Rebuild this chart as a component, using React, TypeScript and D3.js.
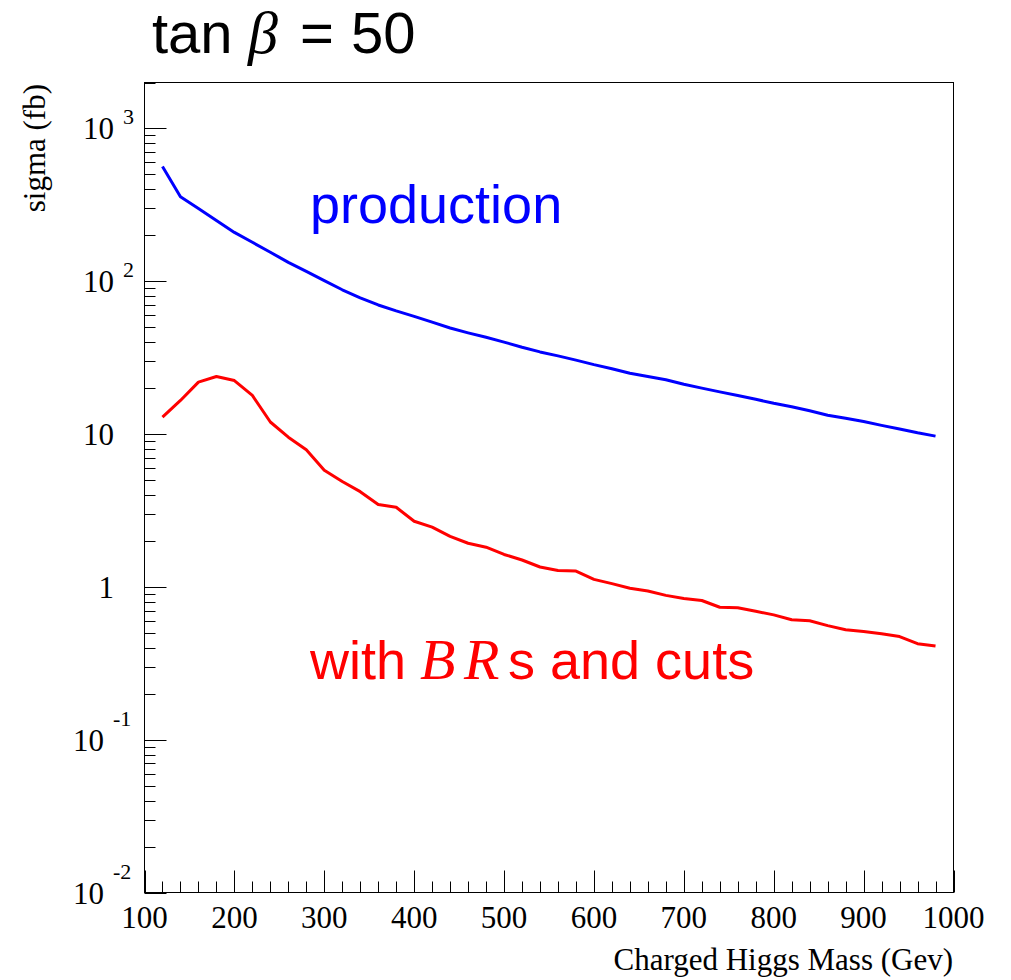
import React, { useRef, useLayoutEffect } from 'react'
import { select, scaleLinear, scaleLog, line, range } from 'd3'

// masses (GeV), every 20 from 120 to 980
const masses = range(120, 981, 20)

// production cross section (fb)
const production = [
  564, 357, 300, 250, 209, 180, 155, 133, 116, 101, 88, 78, 70, 64, 59, 54,
  49.5, 46, 43, 40, 37, 34.5, 32.5, 30.5, 28.5, 26.8, 25, 23.8, 22.7, 21.2, 20,
  18.9, 17.9, 16.9, 15.9, 15.1, 14.2, 13.3, 12.7, 12.1, 11.4, 10.8, 10.2, 9.7,
]

// with BRs and cuts (fb)
const withCuts = [
  12.9, 16.6, 21.9, 23.8, 22.4, 17.9, 12.0, 9.55, 7.9, 5.8, 4.9, 4.2, 3.46,
  3.32, 2.69, 2.46, 2.14, 1.93, 1.82, 1.63, 1.5, 1.35, 1.28, 1.27, 1.12, 1.05,
  0.98, 0.94, 0.88, 0.84, 0.815, 0.736, 0.73, 0.693, 0.656, 0.61, 0.6, 0.558,
  0.524, 0.51, 0.493, 0.473, 0.425, 0.41,
]

const xTicks = [100, 200, 300, 400, 500, 600, 700, 800, 900, 1000]
const yDecades = [-2, -1, 0, 1, 2, 3]

const WIDTH = 1011
const HEIGHT = 980
const frame = { left: 144.5, right: 953.5, top: 82.5, bottom: 892.5 }
const SERIF = '"Liberation Serif", "Times New Roman", serif'
const SANS = '"Liberation Sans", Arial, Helvetica, sans-serif'

function App() {
  const svgRef = useRef()

  useLayoutEffect(() => {
    const svg = select(svgRef.current)
    svg.selectAll('*').remove()

    const x = scaleLinear().domain([100, 1000]).range([frame.left, frame.right])
    const y = scaleLog().domain([0.01, 2000]).range([frame.bottom, frame.top])

    // frame
    svg
      .append('rect')
      .attr('x', frame.left)
      .attr('y', frame.top)
      .attr('width', frame.right - frame.left)
      .attr('height', frame.bottom - frame.top)
      .attr('fill', 'none')
      .attr('stroke', 'black')
      .attr('stroke-width', 1)

    // y ticks (major + minor)
    const ax = svg.append('g').attr('stroke', 'black').attr('stroke-width', 1)
    yDecades.forEach(d => {
      const base = Math.pow(10, d)
      ax.append('line')
        .attr('x1', frame.left).attr('x2', frame.left + 22)
        .attr('y1', Math.round(y(base)) + 0.5).attr('y2', Math.round(y(base)) + 0.5)
      for (let m = 2; m <= 9; m++) {
        const v = m * base
        if (v > 2000) break
        ax.append('line')
          .attr('x1', frame.left).attr('x2', frame.left + 11)
          .attr('y1', Math.round(y(v)) + 0.5).attr('y2', Math.round(y(v)) + 0.5)
      }
    })

    // x ticks
    range(100, 1001, 20).forEach(v => {
      const major = v % 100 === 0
      ax.append('line')
        .attr('x1', Math.round(x(v)) + 0.5).attr('x2', Math.round(x(v)) + 0.5)
        .attr('y1', frame.bottom).attr('y2', frame.bottom - (major ? 22 : 11))
    })

    // x tick labels
    svg
      .append('g')
      .selectAll('text')
      .data(xTicks)
      .join('text')
      .attr('x', d => x(d))
      .attr('y', 928)
      .attr('text-anchor', 'middle')
      .attr('font-family', SERIF)
      .attr('font-size', 31)
      .text(d => d)

    // y tick labels
    const yl = svg.append('g').attr('font-family', SERIF)
    yDecades.forEach(d => {
      const ty = y(Math.pow(10, d)) + 11
      if (d === 0 || d === 1) {
        yl.append('text')
          .attr('x', 114).attr('y', ty)
          .attr('text-anchor', 'end').attr('font-size', 31)
          .text(d === 0 ? '1' : '10')
      } else {
        const end = d < 0 ? 104 : 114
        yl.append('text')
          .attr('x', end).attr('y', ty)
          .attr('text-anchor', 'end').attr('font-size', 31)
          .text('10')
        yl.append('text')
          .attr('x', end + 9).attr('y', ty - (d < 0 ? 25 : 15))
          .attr('font-size', 22)
          .text(`${d}`)
      }
    })

    // axis titles
    svg
      .append('text')
      .attr('x', 953)
      .attr('y', 970)
      .attr('text-anchor', 'end')
      .attr('font-family', SERIF)
      .attr('font-size', 31)
      .text('Charged Higgs Mass (Gev)')

    svg
      .append('text')
      .attr('transform', 'translate(45,84) rotate(-90)')
      .attr('text-anchor', 'end')
      .attr('font-family', SERIF)
      .attr('font-size', 31)
      .text('sigma (fb)')

    // curves
    const path = line()
      .x((d, i) => x(masses[i]))
      .y(d => y(d))

    svg
      .append('path')
      .attr('d', path(production))
      .attr('fill', 'none')
      .attr('stroke', '#0000ff')
      .attr('stroke-width', 3)
      .attr('stroke-linejoin', 'round')

    svg
      .append('path')
      .attr('d', path(withCuts))
      .attr('fill', 'none')
      .attr('stroke', '#ff0000')
      .attr('stroke-width', 3)
      .attr('stroke-linejoin', 'round')

    // title
    const title = svg.append('g').attr('font-size', 58)
    title.append('text').attr('x', 152).attr('y', 53).attr('font-family', SANS).text('tan')
    title.append('text').attr('x', 248).attr('y', 53).attr('font-family', SERIF)
      .attr('font-style', 'italic').attr('font-size', 60).text('β')
    title.append('text').attr('x', 300).attr('y', 53).attr('font-family', SANS).text('=')
    title.append('text').attr('x', 351).attr('y', 53).attr('font-family', SANS).text('50')

    // labels
    svg
      .append('text')
      .attr('x', 310)
      .attr('y', 223)
      .attr('font-family', SANS)
      .attr('font-size', 54)
      .attr('fill', '#0000ff')
      .text('production')

    const red = svg.append('g').attr('font-size', 54).attr('fill', '#ff0000')
    red.append('text').attr('x', 310).attr('y', 679).attr('font-family', SANS).text('with')
    red.append('text').attr('x', 420).attr('y', 679).attr('font-family', SERIF)
      .attr('font-style', 'italic').attr('font-size', 58).text('B')
    red.append('text').attr('x', 464).attr('y', 679).attr('font-family', SERIF)
      .attr('font-style', 'italic').attr('font-size', 58).text('R')
    red.append('text').attr('x', 508).attr('y', 679).attr('font-family', SANS).text('s and cuts')
  }, [])

  return (
    <svg
      ref={svgRef}
      width={WIDTH}
      height={HEIGHT}
      style={{ position: 'absolute', left: 0, top: 0, background: 'white' }}
    />
  )
}

export default App
